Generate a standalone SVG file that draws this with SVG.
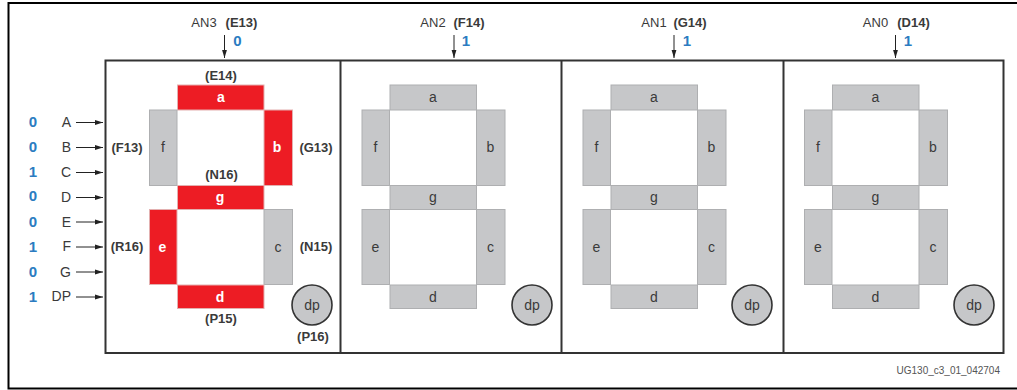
<svg xmlns="http://www.w3.org/2000/svg" width="1017" height="390" viewBox="0 0 1017 390">
<defs>
<marker id="ah" markerUnits="userSpaceOnUse" markerWidth="9" markerHeight="6" refX="8" refY="3" orient="auto"><path d="M0 0.6L8 3L0 5.4Z" fill="#222"/></marker>
<g id="digit">
<rect class="s" x="177.5" y="85" width="86.5" height="25"/>
<rect class="s" x="149.5" y="110" width="27.5" height="75.5"/>
<rect class="s" x="264" y="110" width="28.5" height="75.5"/>
<rect class="s" x="177.5" y="185.5" width="86.500" height="24"/>
<rect class="s" x="149.5" y="209.5" width="27.5" height="75"/>
<rect class="s" x="264" y="209.5" width="28.5" height="75"/>
<rect class="s" x="177.5" y="285" width="86.5" height="23.5"/>
<text class="l" x="220.5" y="102">a</text>
<text class="l" x="163" y="152">f</text>
<text class="l" x="278" y="152">b</text>
<text class="l" x="220.5" y="202">g</text>
<text class="l" x="163" y="252">e</text>
<text class="l" x="278" y="252">c</text>
<text class="l" x="220.5" y="302">d</text>
</g>
</defs>
<style>
text{font-family:"Liberation Sans",Arial,sans-serif;fill:#3a3a3a}
.s{fill:#c6c7c9;stroke:#aeafb1;stroke-width:1}
.r{fill:#ed1c24;stroke:#e3b0b0;stroke-width:1}
.l{font-size:14px;text-anchor:middle}
.w{font-size:14px;font-weight:bold;text-anchor:middle;fill:#fff}
.t{font-size:13px;text-anchor:middle}
.p{font-size:13px;font-weight:bold;text-anchor:middle}
.v{font-size:15px;font-weight:bold;fill:#2b7cc1;text-anchor:middle}
.n{font-size:14px;text-anchor:end}
.d{fill:#c6c7c9;stroke:#333;stroke-width:1.6}
.f{fill:none;stroke:#333;stroke-width:2}
.c{stroke:#222;stroke-width:1;fill:none;marker-end:url(#ah)}
</style>
<rect width="1017" height="390" fill="#fff"/>
<g id="frame">
<path d="M1017 3H8.500V388.500H1017" fill="none" stroke="#000" stroke-width="2"/>
<text x="1000" y="374" font-size="10" text-anchor="end" style="fill:#555">UG130_c3_01_042704</text>
</g>
<g id="panels">
<rect class="f" x="105.500" y="60.500" width="898" height="292.500"/>
<path class="f" d="M340.500 60V353M561.500 60V353M783.500 60V353"/>
</g>
<g id="connectors">
<path class="c" d="M224.500 35V58"/>
<path class="c" d="M454 35V58"/>
<path class="c" d="M674 35V58"/>
<path class="c" d="M895.500 35V58"/>
<path class="c" d="M76 122.500H103"/>
<path class="c" d="M76 147.500H103"/>
<path class="c" d="M76 172.500H103"/>
<path class="c" d="M76 197.500H103"/>
<path class="c" d="M76 222H103"/>
<path class="c" d="M76 247H103"/>
<path class="c" d="M76 272H103"/>
<path class="c" d="M76 297H103"/>
</g>
<g id="digit-an3">
<rect class="r" x="177.500" y="85" width="86.500" height="25"/>
<rect class="s" x="149.500" y="110" width="27.500" height="75.500"/>
<rect class="r" x="264" y="110" width="28.500" height="75.500"/>
<rect class="r" x="177.500" y="185.500" width="86.500" height="24"/>
<rect class="r" x="149.500" y="209.500" width="27.500" height="75"/>
<rect class="s" x="264" y="209.500" width="28.500" height="75"/>
<rect class="r" x="177.500" y="285" width="86.500" height="23.500"/>
<text class="w" x="221" y="102">a</text>
<text class="l" x="163" y="152">f</text>
<text class="w" x="277" y="152">b</text>
<text class="w" x="220" y="202">g</text>
<text class="w" x="162.500" y="252">e</text>
<text class="l" x="278" y="252">c</text>
<text class="w" x="220" y="302">d</text>
<circle class="d" cx="312" cy="305" r="20"/>
<text class="l" x="312" y="309.500">dp</text>
</g>
<g id="digit-an2"><use href="#digit" x="212.500"/><circle class="d" cx="532" cy="305" r="20"/><text class="l" x="532" y="309.500">dp</text></g>
<g id="digit-an1"><use href="#digit" x="433.500"/><circle class="d" cx="752" cy="305" r="20"/><text class="l" x="752" y="309.500">dp</text></g>
<g id="digit-an0"><use href="#digit" x="655"/><circle class="d" cx="974" cy="305" r="20"/><text class="l" x="974" y="309.500">dp</text></g>
<g id="labels">
<text class="t" x="204" y="27">AN3</text><text class="p" x="241.500" y="27">(E13)</text>
<text class="t" x="433" y="27">AN2</text><text class="p" x="469" y="27">(F14)</text>
<text class="t" x="654" y="27">AN1</text><text class="p" x="690" y="27">(G14)</text>
<text class="t" x="875.500" y="27">AN0</text><text class="p" x="913.500" y="27">(D14)</text>
<text class="v" x="237.500" y="46">0</text>
<text class="v" x="466" y="46">1</text>
<text class="v" x="687" y="46">1</text>
<text class="v" x="908" y="46">1</text>
<text class="p" x="221" y="80">(E14)</text>
<text class="p" x="221.500" y="179">(N16)</text>
<text class="p" x="221" y="323">(P15)</text>
<text class="p" x="127" y="152">(F13)</text>
<text class="p" x="127" y="251">(R16)</text>
<text class="p" x="316" y="152">(G13)</text>
<text class="p" x="316" y="251">(N15)</text>
<text class="p" x="313" y="341">(P16)</text>
<text class="n" x="71" y="127">A</text>
<text class="n" x="71" y="152">B</text>
<text class="n" x="71" y="177">C</text>
<text class="n" x="71" y="202">D</text>
<text class="n" x="71" y="227">E</text>
<text class="n" x="71" y="251">F</text>
<text class="n" x="71" y="277">G</text>
<text class="n" x="71" y="301">DP</text>
<text class="v" x="33" y="127">0</text>
<text class="v" x="33" y="152">0</text>
<text class="v" x="33" y="177">1</text>
<text class="v" x="33" y="201">0</text>
<text class="v" x="33" y="227">0</text>
<text class="v" x="33" y="252">1</text>
<text class="v" x="33" y="277">0</text>
<text class="v" x="33" y="302">1</text>
</g>
</svg>
